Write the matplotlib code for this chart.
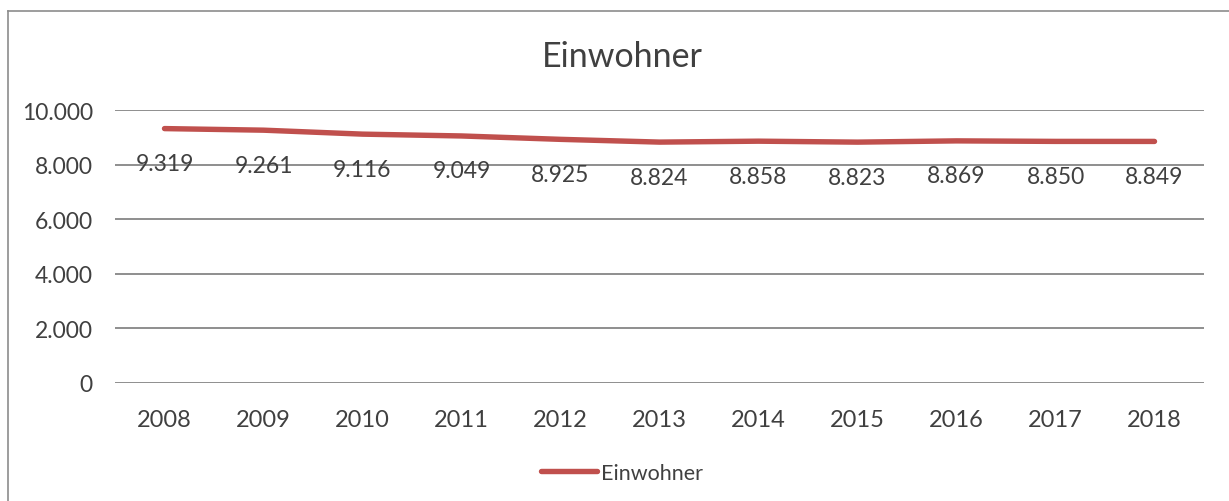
import matplotlib
matplotlib.use("Agg")
import matplotlib.pyplot as plt
from matplotlib.lines import Line2D

years = ["2008", "2009", "2010", "2011", "2012", "2013", "2014", "2015", "2016", "2017", "2018"]
einwohner = [9319, 9261, 9116, 9049, 8925, 8824, 8858, 8823, 8869, 8850, 8849]
yticks = [0, 2000, 4000, 6000, 8000, 10000]
ytick_labels = ["0", "2.000", "4.000", "6.000", "8.000", "10.000"]
series_name = "Einwohner"

def de(v):
    return f"{v:,}".replace(",", ".")

plt.rcParams['font.family'] = ['Lato', 'DejaVu Sans']
txt = "#404040"
W, H = 1229, 502
fig = plt.figure(figsize=(W / 100, H / 100), dpi=100)
ax = fig.add_axes([115 / W, 1 - 384 / H, (1204 - 115) / W, 273 / H])

x = list(range(len(years)))
ax.plot(x, einwohner, color="#C0504D", lw=3.9, solid_capstyle="round", zorder=3)
for xi, v in zip(x, einwohner):
    ax.annotate(de(v), (xi, v), xytext=(0, -35), textcoords="offset pixels",
                ha="center", va="center", fontsize=16.5, color=txt, zorder=4)

ax.set_xlim(-0.5, len(years) - 0.5)
ax.set_ylim(0, 10000)
ax.set_yticks(yticks)
ax.set_yticklabels(ytick_labels)
ax.set_xticks(x)
ax.set_xticklabels(years)
ax.yaxis.grid(True, color="#868686", lw=1.3)
ax.set_axisbelow(True)
for s in ax.spines.values():
    s.set_visible(False)
ax.tick_params(axis="both", length=0, labelsize=16.5, colors=txt)
ax.tick_params(axis="x", labelsize=17)
ax.tick_params(axis="y", pad=16)
ax.tick_params(axis="x", pad=19)

fig.text(622 / W, 1 - 57 / H, "Einwohner", ha="center", va="center", fontsize=24.5, color=txt)

handle = Line2D([0], [0], color="#C0504D", lw=3.9, solid_capstyle="round")
fig.legend([handle], [series_name], loc="center", bbox_to_anchor=(622 / W, 1 - 474 / H),
           frameon=False, fontsize=15.5, labelcolor=txt, handlelength=2.6, handletextpad=0.15)

# chart frame (left and top visible)
fig.add_artist(Line2D([8 / W, 8 / W], [0, 1 - 12 / H], color="#8c8c8c", lw=1.2, transform=fig.transFigure))
fig.add_artist(Line2D([8 / W, 1], [1 - 12 / H, 1 - 12 / H], color="#8c8c8c", lw=1.2, transform=fig.transFigure))

fig.savefig("out.png", dpi=100)
